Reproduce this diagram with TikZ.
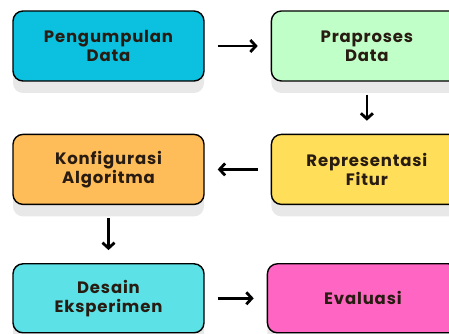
\documentclass[tikz,border=0pt]{standalone}
\usepackage{fontspec}
\setmainfont{Poppins}[LetterSpace=5]
\usepackage{xcolor}
\usepackage{tikz}
\definecolor{stepcyan}{RGB}{12, 192, 223}
\definecolor{stepgreen}{RGB}{193, 255, 200}
\definecolor{steporange}{RGB}{255, 189, 89}
\definecolor{stepyellow}{RGB}{255, 222, 89}
\definecolor{stepaqua}{RGB}{92, 225, 230}
\definecolor{steppink}{RGB}{255, 102, 196}
\definecolor{textbrown}{RGB}{40, 28, 18}
\definecolor{shadowgray}{RGB}{232, 232, 232}
\usetikzlibrary{arrows.meta, positioning, shadows}

\begin{document}
\begin{tikzpicture}[
    node distance=66pt,
    stagebox/.style={rectangle, draw=black, line width=1.4pt,
                     minimum width=191pt, minimum height=70pt,
                     align=center, rounded corners=10pt,
                     text=textbrown, font=\fontsize{16.5}{19}\selectfont\bfseries,
                     drop shadow={shadow xshift=0pt, shadow yshift=-12pt,
                                  fill=shadowgray, opacity=1}},
    flowarrow/.style={line width=2.8pt, -{Straight Barb[length=5.5pt, width=12pt]},
                      shorten <=13pt, shorten >=13pt}
]
    \clip (0,0) rectangle (449pt,334pt);

    \node[stagebox, fill=stepcyan] (kumpul) at (108.5pt,288pt) {Pengumpulan\\Data};
    \node[stagebox, fill=stepgreen, right=of kumpul] (praproses) {Praproses\\Data};
    \node[stagebox, fill=stepyellow, below=52pt of praproses] (fitur) {Representasi\\Fitur};
    \node[stagebox, fill=steporange, left=of fitur] (algo) {Konfigurasi\\Algoritma};
    \node[stagebox, fill=stepaqua, below=58pt of algo, minimum height=69pt] (desain) {Desain\\Eksperimen};
    \node[stagebox, fill=steppink, right=62pt of desain, minimum height=69pt] (evaluasi) {Evaluasi};

    \foreach \from/\to in {kumpul/praproses, praproses/fitur, fitur/algo, algo/desain, desain/evaluasi}
        \draw[flowarrow] (\from) -- (\to);
\end{tikzpicture}
\end{document}
